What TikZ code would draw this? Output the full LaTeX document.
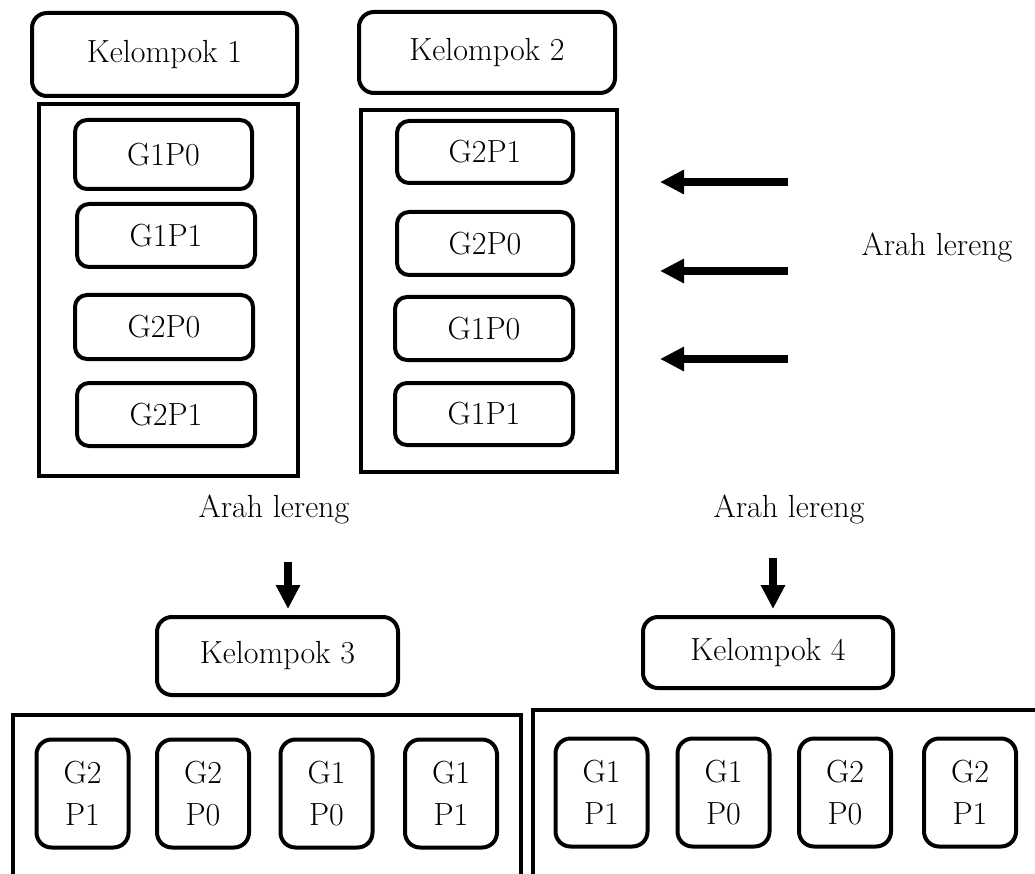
\documentclass[tikz,border=0pt]{standalone}
\usepackage{fontspec}
\usetikzlibrary{arrows.meta}
\begin{document}
\begin{tikzpicture}[x=1pt,y=-1pt,
  font=\fontsize{32}{42}\selectfont,
  bigbox/.style={draw,line width=4pt,rounded corners=15pt,inner sep=0pt},
  cell/.style={draw,line width=4pt,rounded corners=12pt,inner sep=0pt},
  vcell/.style={draw,line width=4pt,rounded corners=15pt,inner sep=0pt,align=center,minimum width=92pt,minimum height=108pt},
  frame/.style={draw,line width=4pt},
  slope/.style={line width=8pt,-{Triangle[length=24pt,width=23pt]}},
  lbl/.style={inner sep=0pt}]
\useasboundingbox (0,0) rectangle (1035,874);
% top groups
\node[bigbox,minimum width=265pt,minimum height=83pt] (k1) at (164.5,54.5) {Kelompok 1};
\node[bigbox,minimum width=256pt,minimum height=81pt] (k2) at (487,52.5) {Kelompok 2};
\draw[frame] (39,104) rectangle (298,476);
\draw[frame] (361,110) rectangle (617,472);
\node[cell,minimum width=177pt,minimum height=69pt] (a1) at (163.5,154.5) {G1P0};
\node[cell,minimum width=178pt,minimum height=63pt] (a2) at (166,235.5) {G1P1};
\node[cell,minimum width=178pt,minimum height=64pt] (a3) at (164,327) {G2P0};
\node[cell,minimum width=178pt,minimum height=63pt] (a4) at (166,414.5) {G2P1};
\node[cell,minimum width=176pt,minimum height=62pt] (b1) at (485,152) {G2P1};
\node[cell,minimum width=176pt,minimum height=63pt] (b2) at (485,243.5) {G2P0};
\node[cell,minimum width=178pt,minimum height=63pt] (b3) at (484,328.5) {G1P0};
\node[cell,minimum width=178pt,minimum height=62pt] (b4) at (484,414) {G1P1};
% side arrows
\coordinate (s1a) at (788,182); \coordinate (s1b) at (660,182);
\coordinate (s2a) at (788,271); \coordinate (s2b) at (660,271);
\coordinate (s3a) at (788,359); \coordinate (s3b) at (660,359);
\draw[slope] (s1a) -- (s1b);
\draw[slope] (s2a) -- (s2b);
\draw[slope] (s3a) -- (s3b);
\node[lbl] (t1) at (937,247) {Arah lereng};
\node[lbl] (t2) at (274,509) {Arah lereng};
\node[lbl] (t3) at (789,509) {Arah lereng};
% bottom groups
\node[bigbox,minimum width=241pt,minimum height=78pt] (k3) at (277.5,656) {Kelompok 3};
\node[bigbox,minimum width=250pt,minimum height=71pt] (k4) at (768,652.5) {Kelompok 4};
\coordinate (d1a) at (288,562); \coordinate (d1b) at (288,609);
\coordinate (d2a) at (773,558); \coordinate (d2b) at (773,609);
\draw[slope] (d1a) -- (d1b);
\draw[slope] (d2a) -- (d2b);
\draw[frame] (13,874) -- (13,715) -- (521,715) -- (521,874);
\draw[frame] (533,874) -- (533,710) -- (1035,710);
\node[vcell] (c1) at (82.5,793.5) {G2\\P1};
\node[vcell] (c2) at (203,793.5) {G2\\P0};
\node[vcell] (c3) at (326.5,793.5) {G1\\P0};
\node[vcell] (c4) at (451,793.5) {G1\\P1};
\node[vcell] (e1) at (601.5,792.5) {G1\\P1};
\node[vcell] (e2) at (723.5,792.5) {G1\\P0};
\node[vcell] (e3) at (845,792.5) {G2\\P0};
\node[vcell] (e4) at (970,792.5) {G2\\P1};
\end{tikzpicture}
\end{document}
